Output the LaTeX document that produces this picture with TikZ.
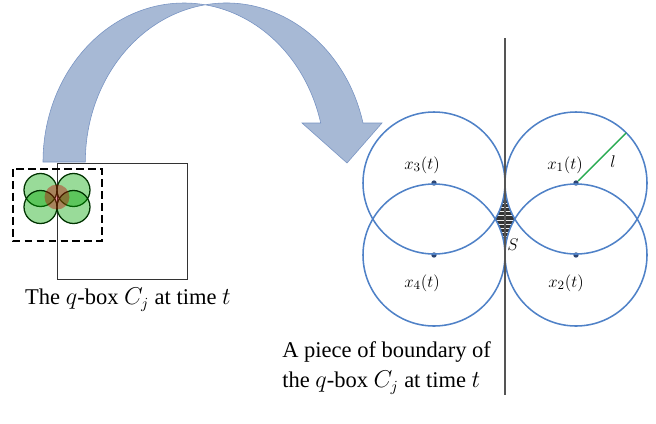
\documentclass[tikz,border=0pt]{standalone}
\usepackage{fontspec}
\setmainfont{Liberation Serif}
\usetikzlibrary{positioning, patterns}
\definecolor{arw}{RGB}{167,185,213}
\definecolor{arwedge}{RGB}{118,146,194}
\definecolor{circ}{RGB}{79,129,199}
\definecolor{dotc}{RGB}{45,70,115}
\definecolor{lgrn}{RGB}{40,170,80}
\definecolor{bline}{RGB}{85,85,85}
\tikzset{
  bigarrow/.style={draw=arwedge, thin, fill=arw},
  qbox/.style={draw=gray!40!black, line width=0.6pt},
  % dashed window round the balls
  dashbox/.style={draw=black, line width=1.4pt, dash pattern=on 5.5pt off 3pt},
  ball/.style={draw=black!80!green, line width=0.9pt, fill=green!65!black, fill opacity=0.4},
  ballred/.style={fill=red!75!black, fill opacity=0.4},
  cov/.style={draw=circ, line width=1.1pt},
  ctr/.style={circle, fill=dotc, inner sep=0pt, minimum size=3.8pt},
  lbl/.style={font=\fontsize{13}{15}\selectfont, inner sep=1pt},
  captxt/.style={font=\fontsize{16}{21}\selectfont, align=left, inner sep=0pt}
}

\begin{document}
\begin{tikzpicture}[x=0.025cm, y=-0.025cm]
  \useasboundingbox (0,0) rectangle (656,423);

  % curved arrow from the q-box to the close-up
  \draw[bigarrow] (43,162) arc[start angle=180, end angle=345.8, x radius=141, y radius=159]
    -- (302,123) -- (347,163) -- (382,123) -- (363,123)
    arc[start angle=345.8, end angle=180, x radius=141, y radius=159] -- cycle;

  % q-box and its balls
  \draw[qbox] (57,163) rectangle (187,279);
  \foreach \bx/\by in {40.5/190, 73.5/190, 40.5/207, 73.5/207}
    \draw[ball] (\bx,\by) circle[radius=16.5];
  \fill[ballred] (57,197) circle[radius=12.5];
  \draw[dashbox] (13,169) rectangle (102,241);
  \node[captxt, anchor=center] (capL) at (128,300) {The $q$-box $C_j$ at time $t$};

  % close-up: centres
  \node[ctr] (c1) at (576,183) {};
  \node[ctr] (c2) at (576,255) {};
  \node[ctr] (c3) at (434,183) {};
  \node[ctr] (c4) at (434,255) {};

  % uncovered piece S
  \fill[gray!40!black] (505,183) arc[start angle=0, end angle=30.47, radius=71]
    arc[start angle=-30.47, end angle=0, radius=71]
    arc[start angle=180, end angle=210.47, radius=71]
    arc[start angle=149.53, end angle=180, radius=71] -- cycle;
  \fill[pattern=horizontal lines, pattern color=white!85!gray] (505,183) arc[start angle=0, end angle=30.47, radius=71]
    arc[start angle=-30.47, end angle=0, radius=71]
    arc[start angle=180, end angle=210.47, radius=71]
    arc[start angle=149.53, end angle=180, radius=71] -- cycle;

  \foreach \c in {c1,c2,c3,c4}
    \draw[cov] (\c) circle[radius=71];

  % boundary of the q-box
  \coordinate (btop) at (505,38);
  \coordinate (bbot) at (505,395);
  \draw[bline, line width=1.1pt] (btop) -- (bbot);

  % radius l
  \path (c1) ++(-45:71) coordinate (lend);
  \draw[lgrn, line width=1pt] (c1) -- (lend);

  \node[lbl] (x1) at (565,165) {$x_1(t)$};
  \node[lbl] (x2) at (566,283) {$x_2(t)$};
  \node[lbl] (x3) at (422,165) {$x_3(t)$};
  \node[lbl] (x4) at (422,283) {$x_4(t)$};
  \node[lbl] (ll) at (613,162) {$l$};
  \node[lbl] (ss) at (513,245) {$S$};

  \node[captxt, anchor=west] (capR) at (282,368) {A piece of boundary of\\the $q$-box $C_j$ at time $t$};
\end{tikzpicture}
\end{document}
